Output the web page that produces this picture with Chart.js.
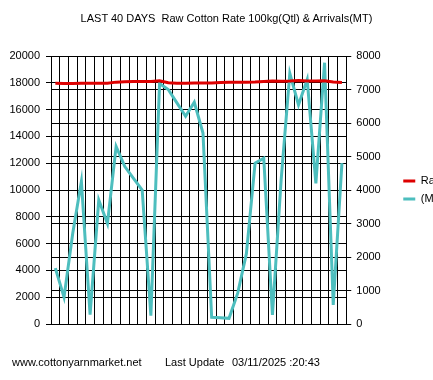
<!DOCTYPE html>
<html><head><meta charset="utf-8">
<script src="https://cdn.jsdelivr.net/npm/chart.js@4"></script>
<style>
html,body{margin:0;padding:0;background:#fff;overflow:hidden;width:433px;height:380px;}
#wrap{position:relative;width:433px;height:380px;overflow:hidden;}
canvas{position:absolute;left:0;top:0;}
.t{position:absolute;font-family:"Liberation Sans",Arial,sans-serif;font-size:11px;color:#000;white-space:pre;line-height:13px;}
</style></head><body>
<div id="wrap">
<canvas id="c" width="460" height="380" style="width:460px;height:380px"></canvas>
<div class="t" style="left:0;width:453px;text-align:center;top:12px">LAST 40 DAYS  Raw Cotton Rate 100kg(Qtl) &amp; Arrivals(MT)</div>
<div class="t" style="left:12px;top:356px">www.cottonyarnmarket.net</div>
<div class="t" style="left:165px;top:356px">Last Update</div>
<div class="t" style="left:232px;top:356px">03/11/2025 :20:43</div>
</div>
<script>
const dates = ["25/09","26/09","27/09","29/09","30/09","01/10","02/10","03/10","04/10","06/10","07/10","08/10","09/10","10/10","11/10","13/10","14/10","15/10","16/10","17/10","18/10","20/10","21/10","22/10","23/10","24/10","25/10","27/10","28/10","29/10","30/10","31/10","01/11","03/11"];
const rate = [17960,17950,17950,17960,17970,17975,17975,18050,18070,18100,18090,18100,18150,18000,17960,17960,17980,17980,17990,18030,18040,18050,18050,18060,18100,18130,18110,18130,18180,18140,18140,18160,18060,18020];
const arrivals = [1670,800,2700,4250,280,3700,3000,5300,4700,4350,4000,250,7180,7000,6600,6200,6620,5700,200,190,170,920,2100,4800,4950,270,4300,7480,6540,7300,4200,7800,570,4800];
const rateTicks = [0,2000,4000,6000,8000,10000,12000,14000,16000,18000,20000];
const arrivalTicks = [0,1000,2000,3000,4000,5000,6000,7000,8000];
const seriesNames = ["Rate","(MT)"];
const RED = "#DD0000", TEAL = "#4DBEBE";
const font = {family:"'Liberation Sans', Arial, sans-serif", size:11};

new Chart(document.getElementById('c'), {
  type:'line',
  data:{
    labels:dates,
    datasets:[
      {label:seriesNames[0], data:rate, yAxisID:'yL', borderColor:RED, backgroundColor:RED, borderWidth:3, pointRadius:0, tension:0, fill:false},
      {label:seriesNames[1], data:arrivals, yAxisID:'yR', borderColor:TEAL, backgroundColor:TEAL, borderWidth:3, pointRadius:0, tension:0, fill:false}
    ]
  },
  options:{
    responsive:false, animation:false, devicePixelRatio:1,
    layout:{padding:{left:0, top:56, right:6, bottom:56}},
    plugins:{
      title:{display:false},
      tooltip:{enabled:false},
      legend:{
        display:true, position:'right', align:'center',
        labels:{
          font:font, color:'#000', boxWidth:12, boxHeight:3, padding:7,
          generateLabels(chart){
            const items = Chart.defaults.plugins.legend.labels.generateLabels(chart);
            items.forEach(i=>{i.lineWidth=0;});
            return items;
          }
        }
      }
    },
    scales:{
      x:{
        type:'category', offset:true,
        grid:{offset:true, color:'#000', lineWidth:1, drawTicks:false},
        border:{display:true, color:'#000', width:1},
        ticks:{display:false, autoSkip:false},
        afterFit(s){ s.height = 0; }
      },
      yL:{
        position:'left', min:0, max:20000,
        afterBuildTicks(s){ s.ticks = rateTicks.map(v=>({value:v})); },
        grid:{color:'#000', lineWidth:1, drawTicks:true, tickLength:5},
        border:{display:true, color:'#000', width:1},
        ticks:{font:font, color:'#000', padding:6, callback:v=>String(v)},
        afterFit(s){ s.width = 51; }
      },
      yR:{
        position:'right', min:0, max:8000,
        afterBuildTicks(s){ s.ticks = arrivalTicks.map(v=>({value:v})); },
        grid:{color:'#000', lineWidth:1, drawTicks:true, tickLength:5},
        border:{display:true, color:'#000', width:1},
        ticks:{font:font, color:'#000', padding:5, callback:v=>String(v)},
        afterFit(s){ s.width = 50; }
      }
    }
  }
});
</script>
</body></html>
